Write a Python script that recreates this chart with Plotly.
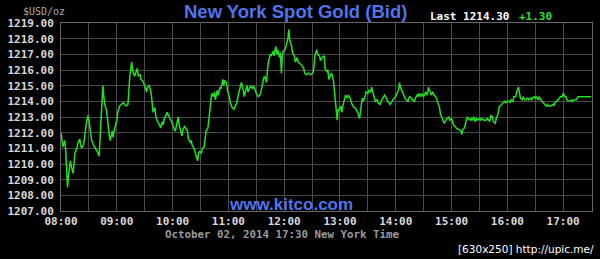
import plotly.graph_objects as go

# minutes after 08:00 New York time
minutes = [0,1,2,4,5,6,7,8,10,11,13,14,15,17,18,20,22,24,25,27,29,30,32,33,35,37,40,41,42,44,45,46,47,49,50,52,53,55,56,57,60,61,63,65,67,70,72,73,74,76,77,79,80,82,83,85,86,88,90,92,93,
95,97,98,99,101,102,104,106,107,109,110,111,113,114,116,117,119,120,122,123,124,126,127,129,130,131,133,134,136,137,139,140,141,143,144,146,147,148,149,151,152,154,155,156,158,159,161,162,164,165,166,168,169,171,172,174,175,176,178,179,181,182,184,186,189,
191,193,194,196,197,199,200,201,203,204,206,207,209,210,212,214,215,216,218,219,221,222,223,225,226,228,229,231,232,233,235,236,237,238,239,241,242,244,245,246,248,249,251,252,254,255,257,259,261,262,264,266,268,271,272,273,275,276,278,279,281,283,284,286,287,288,290,291,
293,294,295,296,297,298,299,301,302,303,305,306,308,309,311,312,313,315,316,318,319,321,322,323,324,325,327,328,330,331,333,334,336,337,338,340,341,343,344,345,347,348,350,351,353,354,355,357,358,360,361,363,364,365,367,368,370,371,373,374,375,377,378,380,381,
383,384,385,387,388,390,391,392,394,395,397,398,400,401,403,404,405,407,408,410,411,412,414,415,417,418,420,421,422,424,425,427,428,430,431,432,434,435,437,438,440,441,442,444,445,447,448,450,451,452,454,455,457,458,460,461,462,464,465,467,468,470,471,472,474,475,477,478,
480,482,483,484,486,487,489,490,492,493,494,496,497,499,500,502,503,505,506,507,509,510,511,513,514,516,517,519,520,522,523,524,526,527,529,530,531,533,534,536,537,539,540,542,543,544,546,547,549,550,552,553,554,556,557,570]

prices = [1212.0,1211.6,1211.1,1211.5,1210.9,1209.8,1208.5,1209.2,1210.2,1209.9,1209.4,1210.0,1210.7,1211.0,1211.3,1211.6,1211.0,1211.2,1211.5,1212.5,1213.1,1212.8,1212.0,1211.5,1211.2,1211.0,1210.7,1210.5,1211.7,1214.1,1215.0,1214.3,1213.8,1213.4,1212.8,1211.8,1211.5,1212.1,1211.7,1212.1,1212.8,1213.3,1213.7,1213.8,1213.9,1213.7,1213.8,1214.7,1215.6,1216.5,1216.0,1215.6,1215.8,1216.1,1215.6,1215.7,1215.4,1215.3,1215.0,1214.6,1214.9,
1215.0,1214.5,1213.9,1213.3,1213.6,1213.0,1212.7,1212.5,1212.3,1212.7,1212.5,1212.9,1213.1,1213.3,1213.1,1212.9,1212.7,1212.5,1212.2,1212.1,1212.5,1213.0,1212.5,1212.1,1211.8,1212.2,1212.4,1212.3,1212.1,1211.6,1211.4,1211.5,1211.2,1211.0,1210.8,1210.3,1210.2,1210.7,1210.8,1210.7,1211.0,1211.1,1211.5,1212.1,1212.3,1213.0,1213.9,1214.5,1214.3,1214.6,1214.1,1214.7,1214.4,1214.9,1214.8,1215.4,1215.0,1215.3,1215.2,1214.7,1214.3,1213.9,1213.6,1213.5,1213.9,
1214.5,1214.9,1215.2,1214.7,1214.3,1214.8,1215.0,1214.6,1214.9,1215.0,1214.8,1215.0,1214.7,1214.5,1214.3,1214.4,1214.6,1215.0,1215.5,1215.6,1215.2,1216.0,1216.5,1217.0,1216.9,1217.2,1216.9,1217.5,1217.0,1217.3,1216.8,1217.1,1215.8,1216.9,1217.2,1217.3,1217.6,1218.0,1218.6,1217.9,1217.5,1217.1,1216.9,1216.5,1216.8,1216.5,1216.4,1216.3,1216.1,1215.8,1215.7,1215.8,1215.7,1215.8,1216.2,1216.9,1217.3,1217.0,1216.9,1216.6,1216.8,1216.9,1216.1,1215.9,1216.0,1215.4,1215.7,1215.8,
1215.3,1214.7,1214.0,1213.3,1212.8,1213.5,1213.4,1213.7,1213.3,1213.7,1214.2,1214.4,1214.2,1214.4,1214.2,1214.0,1213.8,1213.6,1213.6,1213.4,1213.3,1212.9,1213.4,1214.1,1214.2,1214.0,1214.3,1214.6,1214.5,1214.7,1214.6,1214.9,1214.5,1214.3,1214.0,1214.1,1213.9,1213.8,1214.0,1214.1,1214.3,1214.4,1214.2,1214.0,1213.9,1213.8,1213.9,1214.1,1214.2,1214.3,1214.5,1214.7,1215.2,1214.9,1214.6,1214.4,1214.2,1214.1,1214.0,1214.2,1214.3,1214.2,1214.1,1214.0,1214.2,
1214.4,1214.3,1214.5,1214.3,1214.5,1214.3,1214.4,1214.6,1214.4,1214.9,1214.6,1214.4,1214.6,1214.4,1214.3,1214.1,1213.9,1213.6,1213.2,1212.9,1212.7,1212.6,1212.8,1212.9,1213.0,1212.8,1212.9,1212.7,1212.5,1212.4,1212.3,1212.2,1212.2,1212.1,1211.9,1212.2,1212.3,1212.6,1213.0,1212.9,1212.8,1212.9,1212.8,1213.0,1212.7,1212.9,1212.8,1212.9,1212.8,1212.9,1212.8,1212.8,1212.8,1212.9,1212.8,1212.7,1213.1,1213.0,1212.7,1212.6,1212.9,1213.2,1213.6,1213.7,1213.8,1213.9,1214.0,1213.9,
1214.0,1214.0,1213.9,1214.1,1214.0,1214.3,1214.3,1214.6,1214.9,1214.6,1214.2,1214.1,1214.3,1214.1,1214.1,1214.2,1214.1,1214.2,1214.1,1214.2,1214.3,1214.2,1214.3,1214.1,1214.3,1214.1,1214.0,1213.9,1213.8,1213.7,1213.8,1213.7,1213.7,1213.7,1213.8,1213.7,1213.9,1214.0,1214.1,1214.2,1214.3,1214.3,1214.5,1214.3,1214.3,1214.1,1214.0,1214.0,1214.1,1214.0,1214.1,1214.1,1214.1,1214.3,1214.3,1214.3]

grid_minutes = [0,30,60,90,120,150,180,210,240,270,300,330,360,390,420,450,480,510,540]
grid_labels = ["08:00","","09:00","","10:00","","11:00","","12:00","","13:00","","14:00","","15:00","","16:00","","17:00"]
price_ticks = [1207,1208,1209,1210,1211,1212,1213,1214,1215,1216,1217,1218,1219]

title_text = "New York Spot Gold (Bid)"
unit_text = "$USD/oz"
last_text = "Last 1214.30"
change_text = "+1.30"
site_text = "www.kitco.com"
date_text = "October 02, 2014 17:30 New York Time"
stamp_text = "[630x250] http://upic.me/"

L, R, T, B = 58, 7, 23, 48
W, H = 600, 259
PW, PH = W - L - R, H - T - B

def px(x):
    return (x - L) / PW

def py(y):
    return 1 - (y - T) / PH

MONO = "DejaVu Sans Mono"
SANS = "Liberation Sans, Arial"
GRID = "#4a4a4a"
BLUE = "#4f74ec"

fig = go.Figure()
fig.add_trace(go.Scatter(x=minutes, y=prices, mode="lines",
                         line=dict(color="#22e022", width=1.5),
                         hoverinfo="skip", showlegend=False))

fig.update_layout(
    width=W, height=H,
    margin=dict(l=L, r=R, t=T, b=B, pad=0),
    paper_bgcolor="black", plot_bgcolor="black",
    showlegend=False,
    xaxis=dict(range=[0, 571], tickmode="array", tickvals=grid_minutes, ticktext=grid_labels,
               showgrid=True, gridcolor=GRID, gridwidth=1, zeroline=False,
               showline=True, linecolor="#666666", mirror=True,
               ticks="", tickfont=dict(family=MONO, size=11, color="#d8d8d8", weight="bold")),
    yaxis=dict(range=[1207, 1219], tickmode="array", tickvals=price_ticks, tickformat=".2f",
               showgrid=True, gridcolor=GRID, gridwidth=1, zeroline=False,
               showline=True, linecolor="#666666", mirror=True,
               ticks="outside", ticklen=4, tickcolor="black",
               tickfont=dict(family=MONO, size=11, color="#d8d8d8", weight="bold")),
)

ann = [
    dict(text="<b>" + title_text + "</b>", x=px(294), y=py(12), xanchor="center", yanchor="middle",
         font=dict(family=SANS, size=18.5, color=BLUE)),
    dict(text=unit_text, x=px(41), y=py(11), xanchor="center", yanchor="middle",
         font=dict(family=MONO, size=10, color="#aaaaaa")),
    dict(text=last_text, x=px(428), y=py(16), xanchor="left", yanchor="middle",
         font=dict(family=MONO, size=11, color="#ffffff", weight="bold")),
    dict(text=change_text, x=px(517), y=py(16), xanchor="left", yanchor="middle",
         font=dict(family=MONO, size=11, color="#2ee02e", weight="bold")),
    dict(text="<b>" + site_text + "</b>", x=px(290), y=py(204), xanchor="center", yanchor="middle",
         font=dict(family=SANS, size=17, color=BLUE)),
    dict(text=date_text, x=px(281), y=py(234.5), xanchor="center", yanchor="middle", borderpad=0,
         font=dict(family=MONO, size=10.8, color="#9a9a9a", weight="bold")),
    dict(text=stamp_text, x=px(596), y=py(249), xanchor="right", yanchor="middle", borderpad=0,
         font=dict(family="DejaVu Sans", size=10.5, color="#ffffff")),
]
for a in ann:
    a.update(xref="paper", yref="paper", showarrow=False)
fig.update_layout(annotations=ann)

fig.write_html("out.html")
